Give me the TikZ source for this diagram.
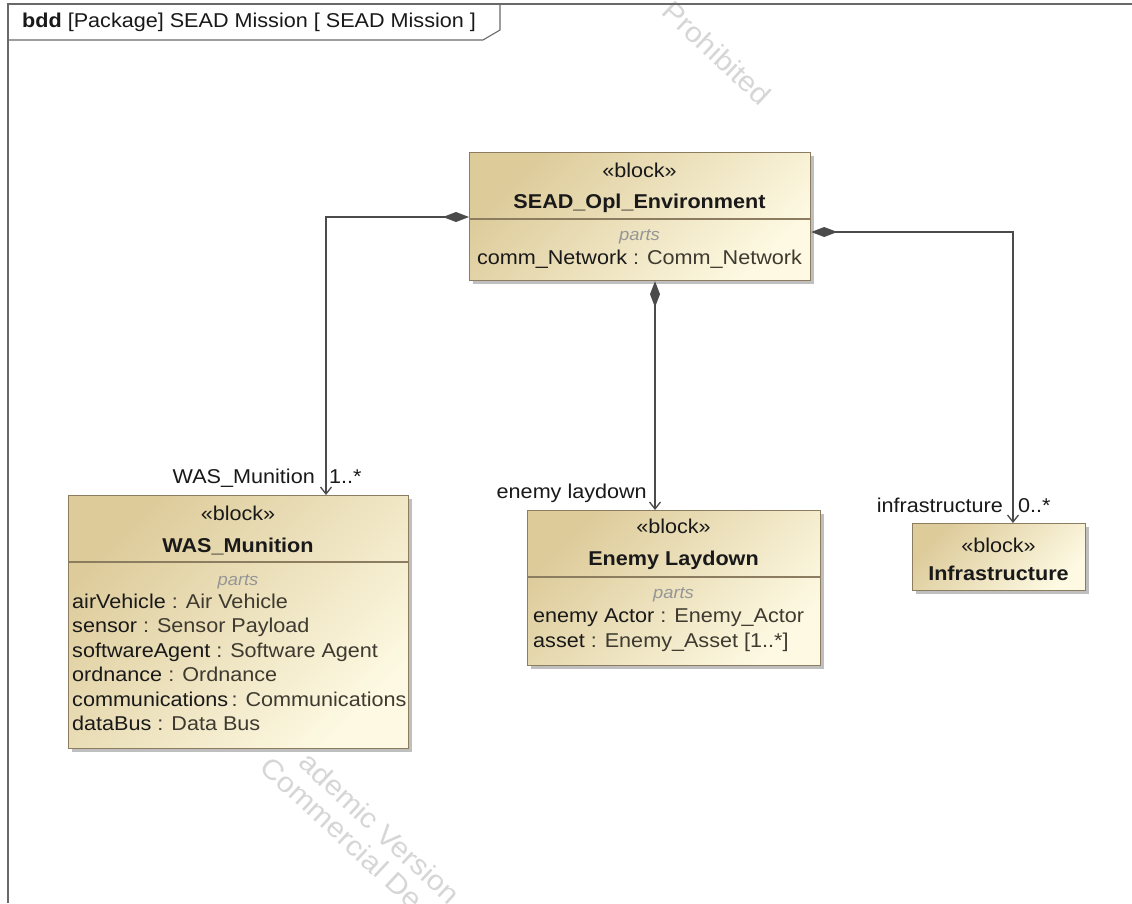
\documentclass[tikz,border=0pt]{standalone}
\usepackage{fontspec}
\setmainfont{Liberation Sans}[FakeStretch=1.08]
\usetikzlibrary{arrows.meta,shadows}

\definecolor{blockdark}{RGB}{221,203,154}
\definecolor{blocklight}{RGB}{253,249,226}
\definecolor{blockedge}{RGB}{140,124,96}
\definecolor{wire}{RGB}{75,75,75}
\definecolor{framegray}{RGB}{105,105,105}
\definecolor{ink}{RGB}{25,25,25}
\definecolor{typeink}{RGB}{62,58,48}
\definecolor{partsgray}{RGB}{150,150,150}
\definecolor{markgray}{RGB}{214,214,214}

\begin{document}
\begin{tikzpicture}[x=1pt,y=-1pt,
  blockbox/.style={draw=blockedge, line width=1.2pt,
    top color=blockdark, bottom color=blocklight, shading angle=45,
    anchor=north west, inner sep=0pt,
    drop shadow={shadow xshift=3pt, shadow yshift=-3pt, fill=black!45, opacity=0.55}},
  divider/.style={draw=blockedge, line width=1.2pt},
  lbl/.style={font=\fontsize{20}{24}\selectfont, text=ink, inner sep=0pt},
  namelbl/.style={lbl, font=\fontsize{20}{24}\selectfont\bfseries},
  partslbl/.style={font=\fontsize{17}{20}\selectfont\itshape, text=partsgray, inner sep=0pt},
  wmark/.style={font=\fontsize{28}{30}\selectfont, text=markgray, inner sep=0pt, rotate=-43},
  compo/.style={draw=wire, line width=1.3pt,
    {Diamond[length=26pt,width=10pt,fill=wire]}-{Straight Barb[length=7pt,width=11pt]}},
  framestroke/.style={draw=framegray, line width=1.4pt}
]
\useasboundingbox (0,0) rectangle (1132,903);
\fill[white] (0,0) rectangle (1132,903);
\clip (0,0) rectangle (1132,903);

% diagonal watermark lettering
\node[wmark] (wm1) at (717,53) {Prohibited};
\node[wmark] (wm2) at (380,828) {ademic Version};
\node[wmark] (wm3) at (342,833) {Commercial De};

% diagram frame and its name tab
\draw[framestroke] (8,903) -- (8,4) -- (1132,4);
\draw[framestroke, line width=1.1pt] (8,40) -- (483,40) -- (500,30) -- (500,4);
\node[lbl, anchor=base west] (title) at (22,27) {\textbf{bdd} [Package] SEAD Mission [ SEAD Mission ]};

% block: SEAD_Opl_Environment
\node[blockbox, minimum width=341pt, minimum height=128pt] (sead) at (469,152) {};
\draw[divider] (sead.west |- 0,219) -- (sead.east |- 0,219);
\node[lbl, anchor=base] (seadst) at (639.5,177) {«block»};
\node[namelbl, anchor=base] (seadnm) at (639.5,208) {SEAD\_Opl\_Environment};
\node[partslbl, anchor=base] (seadpt) at (639.5,240) {parts};
\node[lbl, anchor=base] (seadp1) at (639.5,264) {comm\_Network \textcolor{typeink}{: Comm\_Network}};

% block: WAS_Munition
\node[blockbox, minimum width=340pt, minimum height=253pt] (was) at (68,495) {};
\draw[divider] (was.west |- 0,562) -- (was.east |- 0,562);
\node[lbl, anchor=base] (wasst) at (238,520) {«block»};
\node[namelbl, anchor=base] (wasnm) at (238,552) {WAS\_Munition};
\node[partslbl, anchor=base] (waspt) at (238,585) {parts};
\node[lbl, anchor=base west] (wasp1) at (72,608) {airVehicle \textcolor{typeink}{: Air Vehicle}};
\node[lbl, anchor=base west] (wasp2) at (72,632.5) {sensor \textcolor{typeink}{: Sensor Payload}};
\node[lbl, anchor=base west] (wasp3) at (72,657) {softwareAgent \textcolor{typeink}{: Software Agent}};
\node[lbl, anchor=base west] (wasp4) at (72,681.5) {ordnance \textcolor{typeink}{: Ordnance}};
\node[lbl, anchor=base west] (wasp5) at (72,706) {communications\,\textcolor{typeink}{: Communications}};
\node[lbl, anchor=base west] (wasp6) at (72,730.5) {dataBus \textcolor{typeink}{: Data Bus}};

% block: Enemy Laydown
\node[blockbox, minimum width=293pt, minimum height=155pt] (enemy) at (527,510) {};
\draw[divider] (enemy.west |- 0,577) -- (enemy.east |- 0,577);
\node[lbl, anchor=base] (enst) at (673.5,533) {«block»};
\node[namelbl, anchor=base] (ennm) at (673.5,565) {Enemy Laydown};
\node[partslbl, anchor=base] (enpt) at (673.5,598) {parts};
\node[lbl, anchor=base west] (enp1) at (533,622) {enemy Actor \textcolor{typeink}{: Enemy\_Actor}};
\node[lbl, anchor=base west] (enp2) at (533,647) {asset \textcolor{typeink}{: Enemy\_Asset [1..*]}};

% block: Infrastructure
\node[blockbox, minimum width=173pt, minimum height=67pt] (infra) at (912,523) {};
\node[lbl, anchor=base] (infst) at (998.5,552) {«block»};
\node[namelbl, anchor=base] (infnm) at (998.5,580) {Infrastructure};

% composite associations
\draw[compo] (sead.west |- 0,217) -| (326,0 |- was.north);
\draw[compo] (655,0 |- sead.south) -- (655,0 |- enemy.north);
\draw[compo] (sead.east |- 0,232) -| (1013,0 |- infra.north);

% association end names and multiplicities
\node[lbl, anchor=base east] (wasrole) at (315,483) {WAS\_Munition};
\node[lbl, anchor=base west] (wasmult) at (329,483) {1..*};
\node[lbl, anchor=base east] (enrole) at (647,498) {enemy laydown};
\node[lbl, anchor=base east] (infrole) at (1003,512) {infrastructure};
\node[lbl, anchor=base west] (infmult) at (1018,512) {0..*};
\end{tikzpicture}
\end{document}
